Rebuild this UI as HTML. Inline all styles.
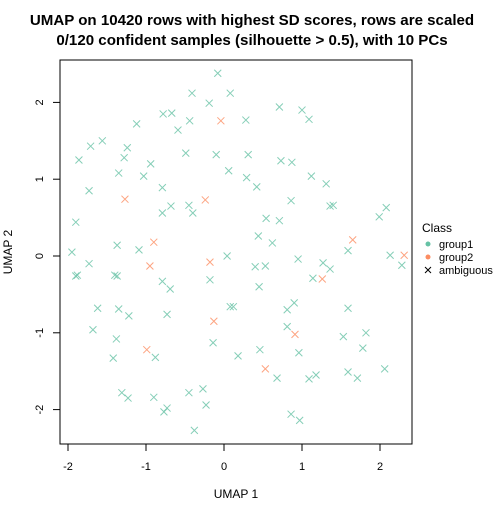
<!DOCTYPE html>
<html><head><meta charset="utf-8"><style>
body{margin:0;background:#fff}
svg{font-family:"Liberation Sans",Arial,sans-serif}
</style></head><body>
<svg id="chart" width="504" height="504" xmlns="http://www.w3.org/2000/svg">
<rect width="504" height="504" fill="#fff"/>
<text x="252" y="25" text-anchor="middle" font-size="15.1" font-weight="bold">UMAP on 10420 rows with highest SD scores, rows are scaled</text>
<text x="252" y="45" text-anchor="middle" font-size="15.1" font-weight="bold">0/120 confident samples (silhouette &gt; 0.5), with 10 PCs</text>
<rect x="60" y="60" width="352" height="384" fill="none" stroke="#000" stroke-width="1"/>
<g id="xaxis"></g>
<g id="yaxis"></g>
<text x="236" y="498" text-anchor="middle" font-size="12">UMAP 1</text>
<text transform="translate(12,252) rotate(-90)" text-anchor="middle" font-size="12">UMAP 2</text>
<g id="points"></g>
<g>
<text x="422" y="232" font-size="12">Class</text>
<g><circle cx="428" cy="244" r="2.5" fill="#66C2A5"/><text x="439" y="248" font-size="11">group1</text></g>
<g><circle cx="428" cy="257" r="2.5" fill="#FC8D62"/><text x="439" y="261" font-size="11">group2</text></g>
<g><path d="M425,267 l6,6 M431,267 l-6,6" stroke="#000" stroke-width="1"/><text x="439" y="274" font-size="11">ambiguous</text></g>
</g>
</svg>
<script>
const xTicks=[-2,-1,0,1,2];
const yTicks=[-2,-1,0,1,2];
const g1x=[-0.08,-0.41,0.08,-0.19,-0.78,-0.67,-0.44,-1.12,-0.59,-1.56,-1.71,-1.24,-1.86,-1.28,-0.49,-0.10,-0.94,-1.35,0.06,-1.03,-1.73,-0.79,-0.68,-0.45,-0.79,-0.40,-1.90,-1.37,-1.09,-1.95,0.04,0.71,1.00,1.09,0.28,0.31,0.73,0.87,0.29,0.42,1.12,1.31,0.86,1.36,1.40,2.08,1.99,0.54,0.71,0.44,0.62,1.59,2.13,0.95,-1.73,-1.90,-1.88,-1.40,-1.37,-0.79,-0.69,-0.18,-1.62,-1.35,-1.22,-0.73,0.08,0.12,-1.68,-1.38,-0.14,-0.88,-1.42,0.18,-1.31,-1.23,-0.90,-0.45,-0.27,-0.23,-0.73,-0.77,-0.38,2.28,1.27,1.36,0.40,0.53,1.14,0.45,0.90,0.81,1.59,0.81,1.53,1.82,1.78,0.46,0.96,0.68,1.09,1.18,1.59,1.71,2.06,0.86,0.97];
const g1y=[2.38,2.12,2.12,1.99,1.85,1.86,1.76,1.72,1.64,1.50,1.43,1.41,1.25,1.28,1.34,1.32,1.20,1.08,1.11,1.04,0.85,0.89,0.65,0.66,0.56,0.56,0.44,0.14,0.08,0.05,0.00,1.94,1.90,1.78,1.77,1.32,1.24,1.22,1.02,0.90,1.04,0.94,0.72,0.65,0.66,0.63,0.51,0.49,0.46,0.26,0.17,0.07,0.01,-0.04,-0.10,-0.26,-0.25,-0.25,-0.26,-0.33,-0.43,-0.31,-0.68,-0.69,-0.78,-0.76,-0.66,-0.66,-0.96,-1.08,-1.13,-1.32,-1.33,-1.30,-1.78,-1.85,-1.84,-1.78,-1.73,-1.94,-1.98,-2.03,-2.27,-0.12,-0.09,-0.17,-0.14,-0.13,-0.29,-0.40,-0.61,-0.70,-0.68,-0.92,-1.05,-1.00,-1.20,-1.22,-1.26,-1.59,-1.60,-1.55,-1.51,-1.59,-1.47,-2.06,-2.14];
const g2x=[-0.04,-1.27,-0.24,-0.90,-0.18,-0.95,1.65,2.31,1.26,-0.13,-0.99,0.91,0.53];
const g2y=[1.76,0.74,0.73,0.18,-0.08,-0.13,0.21,0.01,-0.30,-0.85,-1.22,-1.02,-1.47];
const sx=v=>224+v*78;
const sy=v=>256-v*76.8;
const NS="http://www.w3.org/2000/svg";
function mk(tag,attrs,parent){const e=document.createElementNS(NS,tag);for(const k in attrs)e.setAttribute(k,attrs[k]);parent.appendChild(e);return e;}
const xa=document.getElementById('xaxis'),ya=document.getElementById('yaxis'),pts=document.getElementById('points');
mk('line',{x1:sx(xTicks[0]),x2:sx(xTicks[xTicks.length-1]),y1:444,y2:444,stroke:'#000'},xa);
xTicks.forEach(t=>{
  const l=mk('line',{x1:sx(t),x2:sx(t),y1:444,y2:451,stroke:'#000'},xa);
  
  
  const tx=mk('text',{x:sx(t),y:470,'text-anchor':'middle','font-size':'11'},xa);tx.textContent=t;
  
  
});
mk('line',{x1:60,x2:60,y1:sy(yTicks[0]),y2:sy(yTicks[yTicks.length-1]),stroke:'#000'},ya);
yTicks.forEach(t=>{
  const l=mk('line',{x1:53,x2:60,y1:sy(t),y2:sy(t),stroke:'#000'},ya);
  
  
  const tx=mk('text',{transform:`translate(43,${sy(t)}) rotate(-90)`,'text-anchor':'middle','font-size':'11'},ya);tx.textContent=t;
  
  
});
function cross(x,y,c,name){
  const X=sx(x),Y=sy(y);
  const p=mk('path',{d:`M${X-3.5},${Y-3.5}L${X+3.5},${Y+3.5}M${X+3.5},${Y-3.5}L${X-3.5},${Y+3.5}`,stroke:c,'stroke-width':'1','stroke-opacity':'0.8',fill:'none'},pts);
  
  
}
g1x.forEach((x,i)=>cross(x,g1y[i],'#66C2A5','point-group1'));
g2x.forEach((x,i)=>cross(x,g2y[i],'#FC8D62','point-group2'));
</script>
</body></html>
